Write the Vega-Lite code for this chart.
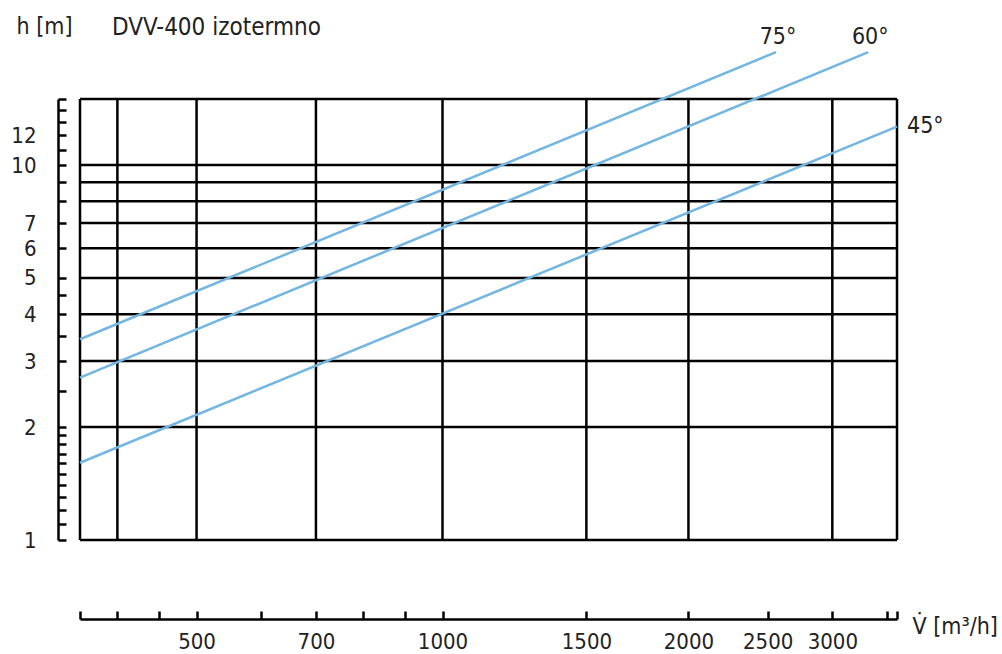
{
  "$schema": "https://vega.github.io/schema/vega-lite/v6.json",
  "width": 817,
  "height": 441,
  "autosize": "none",
  "padding": {"left": 80, "top": 99, "right": 105, "bottom": 114},
  "background": "white",
  "title": {
    "text": "DVV-400 izotermno",
    "anchor": "start",
    "frame": "group",
    "dx": 32,
    "dy": 25,
    "offset": 0,
    "fontSize": 24,
    "fontWeight": "normal",
    "color": "#222222",
    "font": "DejaVu Sans Condensed, sans-serif"
  },
  "config": {
    "view": {"stroke": null},
    "font": "DejaVu Sans Condensed, sans-serif",
    "axis": {
      "domainColor": "#000000",
      "domainWidth": 2.5,
      "tickColor": "#000000",
      "tickWidth": 2.5,
      "tickSize": -8,
      "grid": false,
      "labelColor": "#222222",
      "labelFontSize": 22,
      "labelFont": "DejaVu Sans Condensed, sans-serif",
      "titleFont": "DejaVu Sans Condensed, sans-serif",
      "titleFontSize": 23,
      "titleFontWeight": "normal",
      "titleColor": "#222222",
      "labelOverlap": false,
      "labelFlush": false
    }
  },
  "datasets": {
    "vgrid": [{"V": 360}, {"V": 400}, {"V": 500}, {"V": 700}, {"V": 1000}, {"V": 1500}, {"V": 2000}, {"V": 3000}, {"V": 3600}],
    "hgrid": [{"h": 1}, {"h": 2}, {"h": 3}, {"h": 4}, {"h": 5}, {"h": 6}, {"h": 7}, {"h": 8}, {"h": 9}, {"h": 10}, {"h": 15}],
    "lines": [
      {"angle": "75°", "V": 360, "h": 3.43},
      {"angle": "75°", "V": 2560, "h": 20},
      {"angle": "60°", "V": 360, "h": 2.71},
      {"angle": "60°", "V": 3320, "h": 20},
      {"angle": "45°", "V": 360, "h": 1.607},
      {"angle": "45°", "V": 3600, "h": 12.66}
    ]
  },
  "layer": [
    {
      "data": {"name": "vgrid"},
      "mark": {"type": "rule", "color": "#000000", "strokeWidth": 2.5},
      "encoding": {
        "x": {
          "field": "V", "type": "quantitative",
          "scale": {"type": "log", "domain": [360, 3600], "nice": false, "zero": false},
          "axis": {
            "orient": "bottom",
            "offset": 79,
            "values": [360, 400, 450, 500, 600, 700, 800, 900, 1000, 1500, 2000, 2500, 3000, 3500, 3600],
            "labelExpr": "indexof([500, 700, 1000, 1500, 2000, 2500, 3000], datum.value) >= 0 ? '' + datum.value : ''",
            "labelPadding": 20,
            "labelBaseline": "top",
            "title": "V̇   [m³/h]",
            "titleAngle": 0,
            "titleAlign": "left",
            "titleBaseline": "alphabetic",
            "titleX": 832,
            "titleY": 14
          }
        },
        "y": {"datum": 1, "type": "quantitative"},
        "y2": {"datum": 15}
      }
    },
    {
      "data": {"name": "hgrid"},
      "mark": {"type": "rule", "color": "#000000", "strokeWidth": 2.5},
      "encoding": {
        "y": {
          "field": "h", "type": "quantitative",
          "scale": {"type": "log", "domain": [1, 15], "nice": false, "zero": false},
          "axis": {
            "orient": "left",
            "offset": 22,
            "values": [1, 1.1, 1.2, 1.3, 1.4, 1.5, 1.6, 1.7, 1.8, 1.9, 2, 2.5, 3, 3.5, 4, 4.5, 5, 6, 7, 8, 9, 10, 11, 12, 13, 14, 15],
            "labelExpr": "indexof([1, 2, 3, 4, 5, 6, 7, 10, 12], datum.value) >= 0 ? '' + datum.value : ''",
            "labelPadding": 30,
            "labelAlign": "right",
            "labelBaseline": "middle",
            "title": "h [m]",
            "titleAngle": 0,
            "titleAlign": "left",
            "titleBaseline": "alphabetic",
            "titleX": -42,
            "titleY": -66
          }
        },
        "x": {"datum": 360, "type": "quantitative"},
        "x2": {"datum": 3600}
      }
    },
    {
      "data": {"name": "lines"},
      "mark": {"type": "line", "color": "#74b6e2", "strokeWidth": 2.5},
      "encoding": {
        "x": {"field": "V", "type": "quantitative"},
        "y": {"field": "h", "type": "quantitative"},
        "detail": {"field": "angle"}
      }
    },
    {
      "data": {"name": "lines"},
      "transform": [{"filter": "datum.h >= 20"}],
      "mark": {"type": "text", "align": "center", "baseline": "middle", "dx": 2, "dy": -15, "fontSize": 23, "color": "#222222"},
      "encoding": {
        "x": {"field": "V", "type": "quantitative"},
        "y": {"field": "h", "type": "quantitative"},
        "text": {"field": "angle"}
      }
    },
    {
      "data": {"name": "lines"},
      "transform": [{"filter": "datum.angle == '45°' && datum.V >= 3600"}],
      "mark": {"type": "text", "align": "left", "baseline": "middle", "dx": 10, "dy": -1, "fontSize": 23, "color": "#222222"},
      "encoding": {
        "x": {"field": "V", "type": "quantitative"},
        "y": {"field": "h", "type": "quantitative"},
        "text": {"field": "angle"}
      }
    }
  ]
}
